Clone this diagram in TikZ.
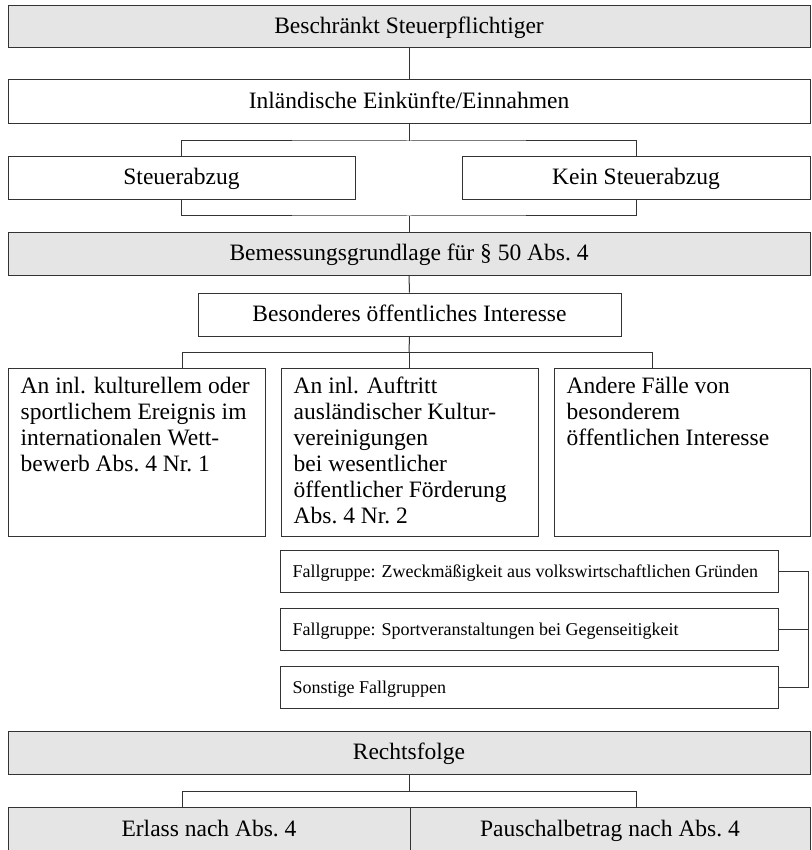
\documentclass[tikz,border=0pt]{standalone}
\usepackage{fontspec}
\setmainfont{Liberation Serif}
\newcommand\mainsz{\fontsize{23.5}{26}\selectfont}
\newcommand\smsz{\fontsize{18}{20}\selectfont}
\tikzset{
  ln/.style={draw=black!80, line width=1pt},
  box/.style={ln, rectangle, inner sep=0pt, font=\mainsz, text height=17pt, text depth=4pt},
  gbox/.style={box, fill=black!10},
  fgbox/.style={ln, rectangle, inner sep=0pt, font=\smsz, text height=13pt, text depth=1pt,
    minimum width=498pt, minimum height=42pt},
  bigbox/.style={ln, rectangle, inner sep=0pt, minimum height=168pt},
  ltxt/.style={inner sep=0pt, font=\mainsz, align=left, anchor=north west},
  stxt/.style={inner sep=0pt, font=\smsz, anchor=base west},
}
\begin{document}
\begin{tikzpicture}[x=1pt,y=-1pt]
\useasboundingbox (0,0) rectangle (811,850);

% level boxes
\node[gbox, minimum width=802pt, minimum height=42pt] (top) at (409,27) {Beschränkt Steuerpflichtiger};
\node[box, minimum width=802pt, minimum height=44pt] (inl) at (409,102) {Inländische Einkünfte/Einnahmen};
\node[box, minimum width=347pt, minimum height=43pt] (st) at (181.5,178.5) {Steuerabzug};
\node[box, minimum width=348pt, minimum height=43pt] (kein) at (636,178.5) {Kein Steuerabzug};
\node[gbox, minimum width=802pt, minimum height=43pt] (bem) at (409,253.5) {Bemessungsgrundlage für § 50 Abs.~4};
\node[box, minimum width=423pt, minimum height=43pt] (bes) at (409.5,314.5) {Besonderes öffentliches Interesse};

% three case boxes
\node[bigbox, minimum width=257pt] (a1) at (136.5,452) {};
\node[bigbox, minimum width=257pt] (a2) at (409.5,452) {};
\node[bigbox, minimum width=256pt] (a3) at (682,452) {};
\node[ltxt] (a1t) at ([xshift=13pt,yshift=-7.8pt]a1.north west)
  {\strut An inl. kulturellem oder\\sportlichem Ereignis im\\internationalen Wett-\\bewerb Abs.~4 Nr.~1};
\node[ltxt] (a2t) at ([xshift=13pt,yshift=-7.8pt]a2.north west)
  {\strut An inl. Auftritt\\ausländischer Kultur-\\vereinigungen\\bei wesentlicher\\öffentlicher Förderung\\Abs.~4 Nr.~2};
\node[ltxt] (a3t) at ([xshift=13pt,yshift=-7.8pt]a3.north west)
  {\strut Andere Fälle von\\besonderem\\öffentlichen Interesse};

% Fallgruppen
\node[fgbox] (f1) at (529,571) {};
\node[fgbox] (f2) at (529,629.5) {};
\node[fgbox] (f3) at (529,687) {};
\node[stxt] (f1t) at ([xshift=13pt,yshift=-6pt]f1.west) {Fallgruppe: Zweckmäßigkeit aus volkswirtschaftlichen Gründen};
\node[stxt] (f2t) at ([xshift=13pt,yshift=-6pt]f2.west) {Fallgruppe: Sportveranstaltungen bei Gegenseitigkeit};
\node[stxt] (f3t) at ([xshift=13pt,yshift=-6pt]f3.west) {Sonstige Fallgruppen};

% Rechtsfolge
\node[gbox, minimum width=802pt, minimum height=43pt] (re) at (409,752.5) {Rechtsfolge};
\node[gbox, minimum width=402pt, minimum height=46pt] (er) at (209,830) {Erlass nach Abs.~4};
\node[gbox, minimum width=400pt, minimum height=46pt] (pa) at (610,830) {Pauschalbetrag nach Abs.~4};

% junction coordinates
\coordinate (j1) at (409,141);
\coordinate (j2) at (409,216);
\coordinate (j3) at (409,352);
\coordinate (k1) at (182,352);
\coordinate (k3) at (652,352);
\coordinate (br) at (808,600);
\coordinate (j4) at (409,791);
\coordinate (m1) at (182,791);
\coordinate (m2) at (636,791);

% connectors
\draw[ln] (top.south) -- (inl.north);
\draw[ln] (inl.south) -- (j1);
\draw[ln] (st.north) |- (j1) -| (kein.north);
\draw[ln] (st.south) |- (j2) -| (kein.south);
\draw[ln] (j2) -- (bem.north);
\draw[ln] (bem.south) -- (bes.north);
\draw[ln] (bes.south) -- (j3);
\draw[ln] (k1) -- (k3);
\draw[ln] (k1) -- (k1 |- a1.north);
\draw[ln] (j3) -- (j3 |- a2.north);
\draw[ln] (k3) -- (k3 |- a3.north);
\draw[ln] (f1.east) -- (f1.east -| br) -- (f3.east -| br) -- (f3.east);
\draw[ln] (f2.east) -- (f2.east -| br);
\draw[ln] (re.south) -- (j4);
\draw[ln] (m1) -- (m2);
\draw[ln] (m1) -- (m1 |- er.north);
\draw[ln] (m2) -- (m2 |- pa.north);
\end{tikzpicture}
\end{document}
